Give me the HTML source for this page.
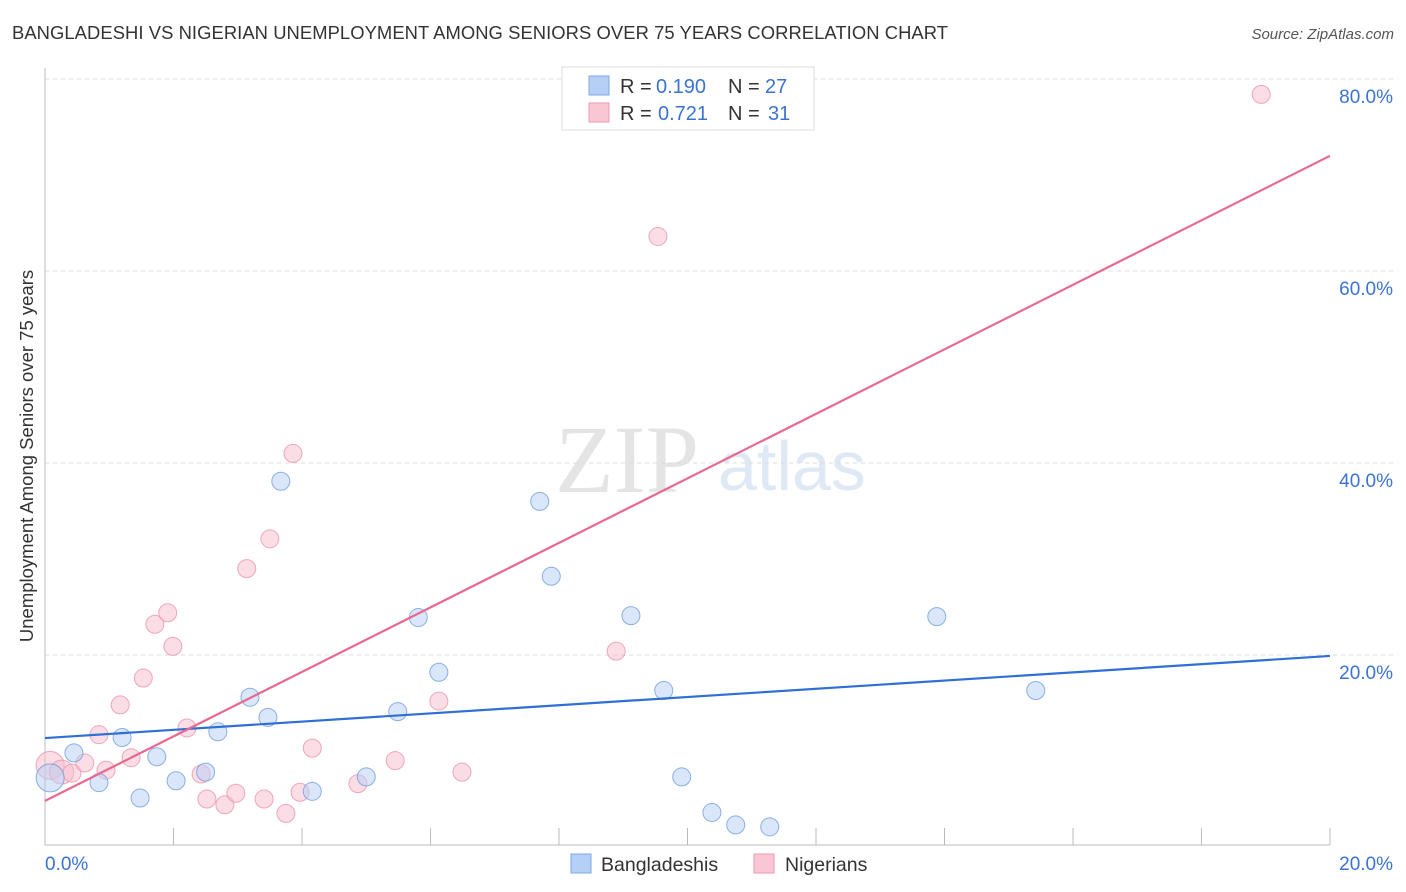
<!DOCTYPE html>
<html><head><meta charset="utf-8"><style>
body{margin:0;background:#fff;font-family:"Liberation Sans",sans-serif;}
svg{display:block}
</style></head><body>
<svg id="c" width="1406" height="892">
<text x="12" y="39" font-size="18.4" fill="#333" textLength="936">BANGLADESHI VS NIGERIAN UNEMPLOYMENT AMONG SENIORS OVER 75 YEARS CORRELATION CHART</text>
<text x="1394" y="39" font-size="15" fill="#555" font-style="italic" text-anchor="end">Source: ZipAtlas.com</text>
<text x="33" y="456" font-size="18.5" fill="#333" text-anchor="middle" transform="rotate(-90 33 456)">Unemployment Among Seniors over 75 years</text>
<text x="555" y="492" font-size="96" fill="#e4e4e4" font-family="Liberation Serif,serif">ZIP</text>
<text x="718" y="490" font-size="70" fill="#dfe8f5">atlas</text>
<g id="grid"></g><g id="pts"></g><g id="lines"></g>
<g>
<rect x="562" y="67" width="252" height="63" fill="#fff" stroke="#ddd"/>
<rect x="589" y="76" width="20" height="19" fill="#b6d0f5" stroke="#7fa8e3"/>
<text x="620" y="93" font-size="20" fill="#333">R =</text>
<text x="656" y="93" font-size="20" fill="#3b73d1">0.190</text>
<text x="728" y="93" font-size="20" fill="#333">N =</text>
<text x="765" y="93" font-size="20" fill="#3b73d1">27</text>
<rect x="589" y="103" width="20" height="19" fill="#f9c6d4" stroke="#ee9ab2"/>
<text x="620" y="120" font-size="20" fill="#333">R =</text>
<text x="658" y="120" font-size="20" fill="#3b73d1">0.721</text>
<text x="728" y="120" font-size="20" fill="#333">N =</text>
<text x="768" y="120" font-size="20" fill="#3b73d1">31</text>
</g>
<g>
<rect x="571" y="854" width="20" height="19" fill="#b6d0f5" stroke="#7fa8e3"/>
<text x="601" y="871" font-size="19.5" fill="#333">Bangladeshis</text>
<rect x="754" y="854" width="20" height="19" fill="#f9c6d4" stroke="#ee9ab2"/>
<text x="785" y="871" font-size="19.5" fill="#333">Nigerians</text>
</g>
</svg>
<script>
const xTicks=[0,20];
const yTicks=[20,40,60,80];
const blueX=[0.08,0.45,0.84,1.2,1.48,1.74,2.04,2.5,2.69,3.19,3.47,3.67,4.16,5.0,5.49,5.81,6.13,7.7,7.88,9.12,9.63,9.91,10.38,10.75,11.28,13.88,15.42];
const blueY=[7.2,9.8,6.7,11.4,5.1,9.4,6.9,7.8,12.0,15.6,13.5,38.1,5.8,7.3,14.1,23.9,18.2,36.0,28.2,24.1,16.3,7.3,3.6,2.3,2.1,24.0,16.3];
const pinkX=[0.08,0.26,0.42,0.62,0.84,0.95,1.17,1.34,1.53,1.71,1.91,1.99,2.21,2.43,2.52,2.8,2.97,3.14,3.41,3.5,3.75,3.86,3.97,4.16,4.87,5.45,6.13,6.49,8.89,9.54,18.93];
const pinkY=[8.5,7.8,7.7,8.75,11.7,8.0,14.8,9.3,17.6,23.2,24.4,20.9,12.4,7.6,5.0,4.4,5.6,29.0,5.0,32.1,3.5,41.0,5.7,10.3,6.6,9.0,15.2,7.8,20.4,63.6,78.4];
const blueTrend=[11.35,19.9];
const pinkTrend=[4.8,72.0];
const NS="http://www.w3.org/2000/svg";
const X=v=>45+v/20*1285, Y=v=>847-v*9.6;
function mk(t,a,p){const e=document.createElementNS(NS,t);for(const k in a)e.setAttribute(k,a[k]);p.appendChild(e);return e;}
const g=document.getElementById('grid');
yTicks.forEach(v=>{
 const l=mk('line',{x1:45,x2:1394,y1:Y(v),y2:Y(v),stroke:'#ddd','stroke-dasharray':'4,4'},g);
 
 
 const t=mk('text',{x:1393,y:Y(v)+24,'font-size':19,fill:'#3b73d1','text-anchor':'end'},g);t.textContent=v.toFixed(1)+'%';
 
 
});
const ax=mk('path',{d:'M45 68V845H1330',fill:'none',stroke:'#bbb'},g);


for(let i=1;i<=10;i++){const tk=mk('line',{x1:X(i*2),x2:X(i*2),y1:828,y2:845,stroke:'#bbb'},g);
 
 }
xTicks.forEach((v,i)=>{const t=mk('text',{x:i?1393:45,y:870,'font-size':19,fill:'#3b73d1','text-anchor':i?'end':'start'},g);t.textContent=v.toFixed(1)+'%';
 
 });
const p=document.getElementById('pts');
function dots(xs,ys,fill,stroke,name){xs.forEach((x,i)=>{const r=(i<2&&x<0.3)?(i===0?14:12):9;
 const c=mk('circle',{cx:X(x),cy:Y(ys[i]),r:r,fill:fill,'fill-opacity':0.5,stroke:stroke,'stroke-width':1,'stroke-opacity':0.8},p);
 
 });}
dots(pinkX,pinkY,'#f7bccd','#ec93ad','pink');
dots(blueX,blueY,'#b6d0f5','#6f9de0','blue');
const L=document.getElementById('lines');
const bl=mk('line',{x1:X(0),y1:Y(blueTrend[0]),x2:X(20),y2:Y(blueTrend[1]),stroke:'#2f6fd6','stroke-width':2.2},L);


const pl=mk('line',{x1:X(0),y1:Y(pinkTrend[0]),x2:X(20),y2:Y(pinkTrend[1]),stroke:'#e8698f','stroke-width':2.2},L);


</script>
</body></html>
